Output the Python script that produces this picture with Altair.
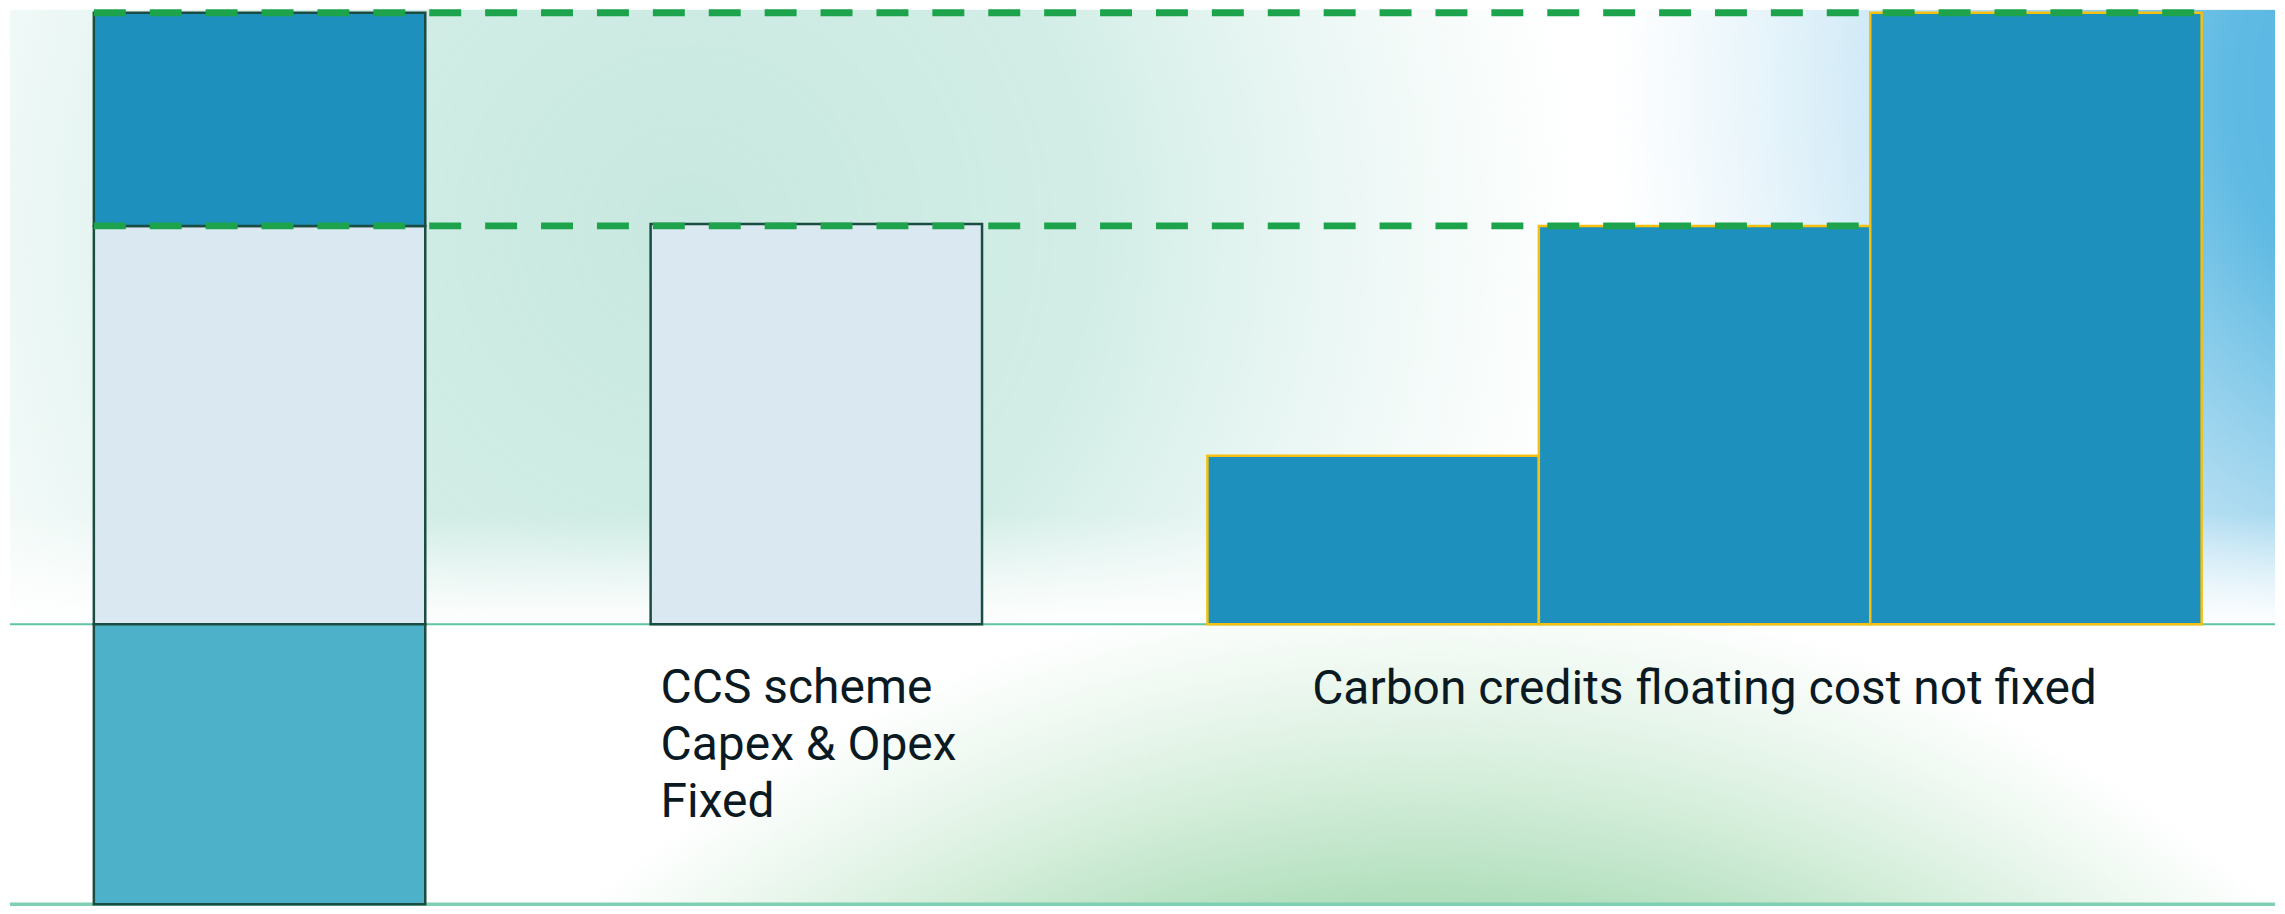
import altair as alt
import pandas as pd

# ---------------- data ----------------
segment_names = ["Base cost", "Premium", "Offset", "CCS scheme",
                 "Carbon credit low", "Carbon credit mid", "Carbon credit high"]
segment_start = [0.0, 0.0, 0.0, 1.68, 3.36, 4.36, 5.36]
segment_end = [1.0, 1.0, 1.0, 2.68, 4.36, 5.36, 6.36]
segment_low = [0.0, 100.0, -70.3, 0.0, 0.0, 0.0, 0.0]
segment_high = [100.0, 153.5, 0.0, 100.5, 42.3, 100.0, 153.5]
segment_kind = ["light", "dark", "teal", "light", "dark", "dark", "dark"]
segment_group = ["fixed", "fixed", "fixed", "fixed", "floating", "floating", "floating"]

level_values = [153.5, 100.0]
level_start = [0.0, 0.0]
level_end = [6.36, 5.36]

baseline_values = [0.0, -70.3]

ccs_lines = ["CCS scheme", "Capex & Opex", "Fixed"]
ccs_x = 1.68
carbon_label = "Carbon credits floating cost not fixed"
carbon_x = 4.86

# ---------------- layout / style ----------------
W, H = 2269, 898
XDOM = [-0.253, 6.5813]
YDOM = [-70.8, 154.25]
TEXT_COLOR = "#0b1a22"

bars = pd.DataFrame({
    "name": segment_names, "xa": segment_start, "xb": segment_end,
    "ya": segment_low, "yb": segment_high,
    "kind": segment_kind, "grp": segment_group,
})
levels = pd.DataFrame({"level": level_values, "xs": level_start, "xe": level_end})
base_df = pd.DataFrame({"yv": baseline_values})

xscale = alt.Scale(domain=XDOM, nice=False, zero=False)
yscale = alt.Scale(domain=YDOM, nice=False, zero=False)


# ---------------- soft background glows (decoration) ----------------
def radial(rect, cx, cy, r, stops):
    # SVG renderer maps a radial gradient onto a square of side max(w, h)
    # centred on the mark (preserveAspectRatio xMidYMid slice).
    x0, y0, w, h = rect
    s = max(w, h)
    nx = (cx - x0 - (w / 2 - s / 2)) / s
    ny = (cy - y0 - (h / 2 - s / 2)) / s
    return {
        "gradient": "radial",
        "x1": nx, "y1": ny, "r1": 0,
        "x2": nx, "y2": ny, "r2": r / s,
        "stops": [{"offset": o, "color": c} for o, c in stops],
    }


def linear_v(stops):
    return {
        "gradient": "linear", "x1": 0, "y1": 0, "x2": 0, "y2": 1,
        "stops": [{"offset": o, "color": c} for o, c in stops],
    }


glow_seed = pd.DataFrame({"g": [1]})


def glow_rect(rect, fill):
    x0, y0, w, h = rect
    return alt.Chart(glow_seed).mark_rect(fill=fill).encode(
        x=alt.value(x0), x2=alt.value(x0 + w),
        y=alt.value(y0), y2=alt.value(y0 + h),
    )


top_rect = (0, 0, W, 616)
teal = glow_rect(top_rect, radial(top_rect, 680, 220, 900, [
    (0, "rgba(196,231,222,0.95)"),
    (0.45, "rgba(202,234,226,0.85)"),
    (1, "rgba(214,239,234,0)"),
]))
blue = glow_rect(top_rect, radial(top_rect, 2480, 80, 880, [
    (0, "rgba(70,175,222,1)"),
    (0.3, "rgba(88,183,226,0.95)"),
    (1, "rgba(175,218,240,0)"),
]))
top_fade = glow_rect((0, 505, W, 111), linear_v([
    (0, "rgba(255,255,255,0)"),
    (1, "rgba(255,255,255,1)"),
]))
bottom_rect = (0, 616, W, H - 616)
green = glow_rect(bottom_rect, radial(bottom_rect, 1422, 1826, 1260, [
    (0, "rgba(165,218,178,0.95)"),
    (0.74, "rgba(170,220,182,0.92)"),
    (1, "rgba(198,233,207,0)"),
]))

# ---------------- chart marks ----------------
zero_line = alt.Chart(base_df.iloc[[0]]).mark_rule(color="#5fc4a3", strokeWidth=2).encode(
    y=alt.Y("yv:Q", scale=yscale, axis=None))
bottom_line = alt.Chart(base_df.iloc[[1]]).mark_rule(color="#7fd0b3", strokeWidth=3.5).encode(
    y=alt.Y("yv:Q", scale=yscale, axis=None))

bar_layer = alt.Chart(bars).mark_rect(strokeWidth=2.5).encode(
    x=alt.X("xa:Q", scale=xscale, axis=None),
    x2=alt.X2("xb"),
    y=alt.Y("ya:Q", scale=yscale, axis=None),
    y2=alt.Y2("yb"),
    color=alt.Color("kind:N", scale=alt.Scale(domain=["light", "dark", "teal"],
                                              range=["#dae8f1", "#1e90be", "#4db1ca"]),
                    legend=None),
    stroke=alt.Stroke("grp:N", scale=alt.Scale(domain=["fixed", "floating"],
                                               range=["#1a4c41", "#f5c010"]),
                      legend=None),
)

dash_layer = alt.Chart(levels).mark_rule(
    color="#1ca34b", strokeWidth=7, strokeDash=[32, 24]
).encode(
    x=alt.X("xs:Q", scale=xscale, axis=None),
    x2=alt.X2("xe"),
    y=alt.Y("level:Q", scale=yscale, axis=None),
)

text_layers = []
for i, line in enumerate(ccs_lines):
    df = pd.DataFrame({"label": [line], "lx": [ccs_x], "ly": [0.0]})
    text_layers.append(
        alt.Chart(df).mark_text(
            font="Roboto", fontSize=48, color=TEXT_COLOR, align="left",
            baseline="top", dx=10, dy=41 + 57 * i,
        ).encode(
            x=alt.X("lx:Q", scale=xscale, axis=None),
            y=alt.Y("ly:Q", scale=yscale, axis=None),
            text="label:N",
        )
    )
cdf = pd.DataFrame({"label": [carbon_label], "lx": [carbon_x], "ly": [0.0]})
text_layers.append(
    alt.Chart(cdf).mark_text(
        font="Roboto", fontSize=48, color=TEXT_COLOR, align="center",
        baseline="top", dy=42,
    ).encode(
        x=alt.X("lx:Q", scale=xscale, axis=None),
        y=alt.Y("ly:Q", scale=yscale, axis=None),
        text="label:N",
    )
)

chart = alt.layer(
    teal, blue, top_fade, green,
    zero_line, bottom_line, bar_layer, dash_layer, *text_layers,
).properties(
    width=W, height=H, padding=0, background="white",
).configure_view(stroke=None)

chart.save("out.html", embed_options={"renderer": "svg", "actions": False})
